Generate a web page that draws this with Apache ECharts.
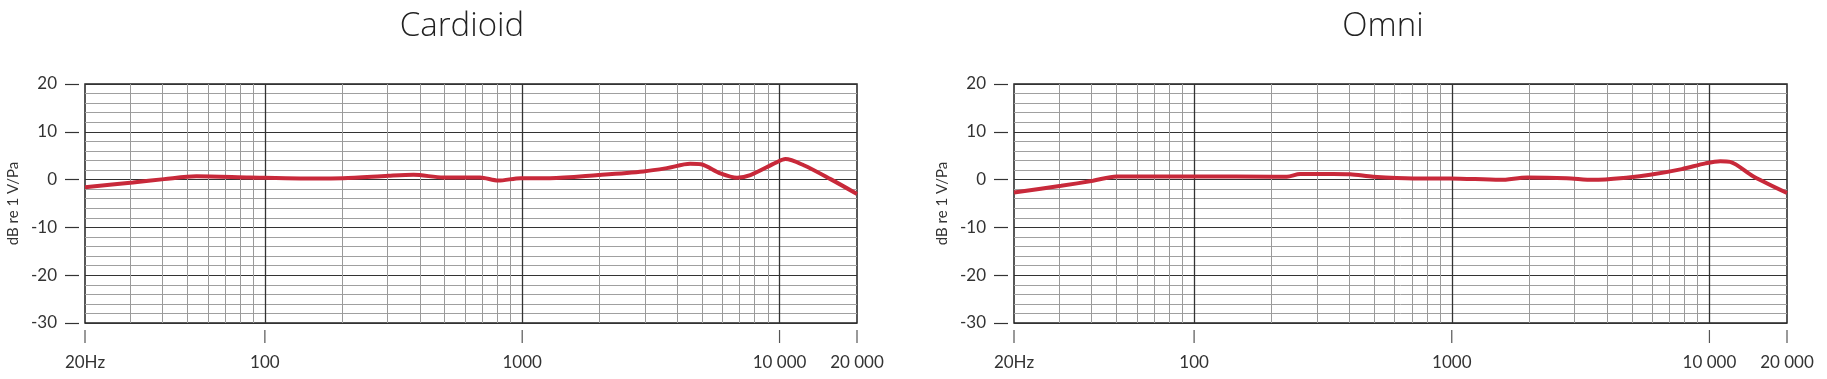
<!DOCTYPE html>
<html>
<head>
<meta charset="utf-8">
<script src="https://cdn.jsdelivr.net/npm/echarts@6/dist/echarts.min.js"></script>
<style>
html,body{margin:0;padding:0;background:#fff;}
#chart{width:1827px;height:379px;}
</style>
</head>
<body>
<div id="chart"></div>
<script>
// ---- data ----
const titles = ['Cardioid', 'Omni'];
const cardioidFreq = [20, 30.7, 40.6, 54.2, 87.5, 137, 201, 302, 378, 494, 686, 807, 987, 1282, 1977, 2958, 3648, 4495, 4950, 5890, 6840, 7700, 9730, 10540, 12420, 15780, 20000];
const cardioidDb   = [-1.6, -0.6, 0.1, 0.7, 0.45, 0.25, 0.3, 0.8, 1.0, 0.45, 0.45, -0.2, 0.3, 0.3, 0.95, 1.7, 2.4, 3.3, 3.2, 1.3, 0.4, 0.95, 3.6, 4.3, 3.0, 0.1, -3.0];
const omniFreq = [20, 30.5, 40.5, 50, 105, 202, 229, 258, 347, 403, 496, 709, 985, 1539, 1963, 2793, 3546, 4846, 5886, 7810, 9650, 11020, 12030, 14820, 20000];
const omniDb   = [-2.7, -1.3, -0.25, 0.65, 0.65, 0.6, 0.6, 1.15, 1.15, 1.1, 0.6, 0.25, 0.25, -0.05, 0.45, 0.3, -0.05, 0.45, 1.0, 2.2, 3.4, 3.85, 3.7, 0.65, -2.8];
const xTickValues = [20, 100, 1000, 10000, 20000];
const xTickLabels = ['20Hz', '100', '1000', '10 000', '20 000'];
const minorFreqs = [30, 40, 50, 60, 70, 80, 90, 200, 300, 400, 500, 600, 700, 800, 900, 2000, 3000, 4000, 5000, 6000, 7000, 8000, 9000];
const majorFreqs = [100, 1000, 10000];
const yAxisName = 'dB re 1 V/Pa';
const yMin = -30, yMax = 20, yStep = 10;

// ---- chart ----
const FONT = 'Lato, "Noto Sans", sans-serif';
const TITLE_FONT = '"Open Sans", Lato, sans-serif';
const TEXT = '#333';
const RED = '#c8293a';
const grids = [
  { left: 85, top: 84, width: 772, height: 239 },
  { left: 1014, top: 84, width: 773, height: 239 }
];
const titlePos = [457, 1378];

function pairs(xs, ys) { return xs.map((x, i) => [x, ys[i]]); }

const option = {
  backgroundColor: '#fff',
  animation: false,
  title: titles.map((t, i) => ({
    text: t, left: titlePos[i], top: 5, textAlign: 'center',
    textStyle: { fontFamily: TITLE_FONT, fontSize: 33, fontWeight: 300, color: '#222' }
  })),
  grid: grids.map(g => Object.assign({ show: true, borderColor: '#222', borderWidth: 1.5, backgroundColor: 'transparent' }, g)),
  xAxis: grids.map((g, i) => ({
    type: 'log', logBase: 10, gridIndex: i, min: 20, max: 20000,
    axisLine: { show: false },
    splitLine: { show: false },
    minorSplitLine: { show: false },
    axisTick: { show: false },
    axisLabel: {
      customValues: xTickValues, margin: 31, color: TEXT, fontFamily: FONT, fontSize: 17,
      formatter: v => { const k = xTickValues.findIndex(t => Math.abs(t - v) < 1e-6 * t); return k >= 0 ? xTickLabels[k] : ''; }
    }
  })),
  yAxis: grids.map((g, i) => ({
    type: 'value', gridIndex: i, min: yMin, max: yMax, interval: yStep,
    offset: 6,
    name: yAxisName, nameLocation: 'middle', nameGap: 58, nameRotate: 90,
    nameTextStyle: { fontFamily: FONT, fontSize: 15, color: TEXT },
    axisLine: { show: false },
    axisTick: { show: true, length: 14, lineStyle: { color: '#333', width: 1.2 } },
    axisLabel: { margin: 22, color: TEXT, fontFamily: FONT, fontSize: 17 },
    splitLine: { show: true, lineStyle: { color: '#333', width: 1.2 } },
    minorTick: { show: false, splitNumber: 5 },
    minorSplitLine: { show: true, lineStyle: { color: '#a0a0a0', width: 1 } }
  })),
  series: []
};

[[cardioidFreq, cardioidDb], [omniFreq, omniDb]].forEach((d, i) => {
  option.series.push({
    type: 'line', xAxisIndex: i, yAxisIndex: i, data: [], silent: true, z: 1,
    markLine: {
      silent: true, symbol: 'none', animation: false,
      label: { show: false },
      data: minorFreqs.map(f => ({ xAxis: f, lineStyle: { color: '#9a9a9a', width: 1, type: 'solid' } }))
        .concat(majorFreqs.map(f => ({ xAxis: f, lineStyle: { color: '#333', width: 1.3, type: 'solid' } })))
    }
  });
  // x-axis tick marks below the plot, positioned through the axis scale
  option.series.push({
    type: 'custom', xAxisIndex: i, yAxisIndex: i, silent: true, clip: false, z: 2,
    data: xTickValues.map(v => [v, yMin]),
    renderItem: (params, api) => {
      const p = api.coord([api.value(0), api.value(1)]);
      return {
        type: 'line',
        shape: { x1: p[0], y1: p[1] + 7, x2: p[0], y2: p[1] + 20 },
        style: { stroke: '#555', lineWidth: 1.2 }
      };
    }
  });
  option.series.push({
    type: 'line', xAxisIndex: i, yAxisIndex: i, z: 5,
    data: pairs(d[0], d[1]), smooth: 0.3, showSymbol: false,
    lineStyle: { color: RED, width: 4 }
  });
});

const chart = echarts.init(document.getElementById('chart'), null, { renderer: 'canvas' });
chart.setOption(option);
</script>
</body>
</html>
